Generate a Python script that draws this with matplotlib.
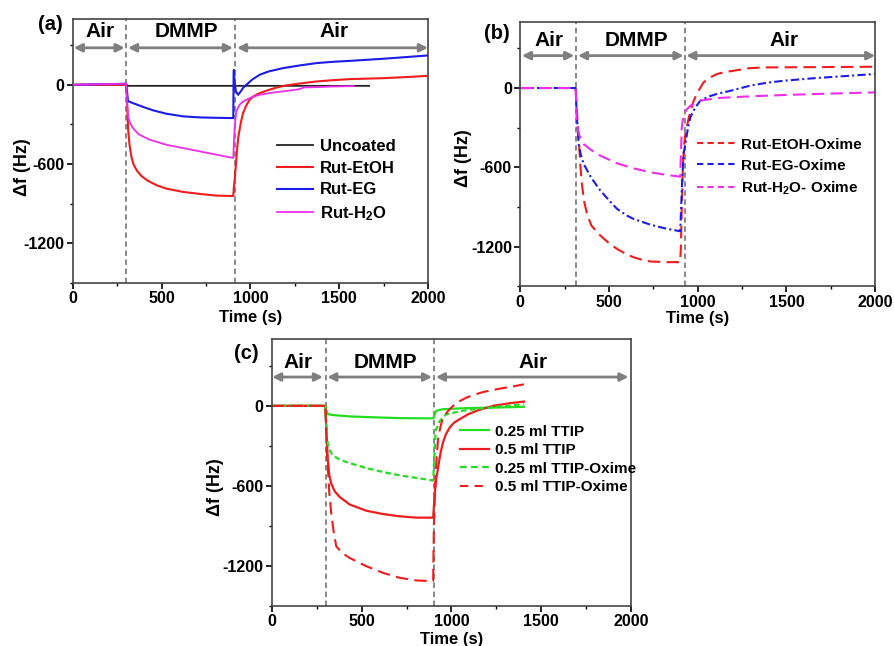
import matplotlib
matplotlib.use("Agg")
import matplotlib.pyplot as plt
from matplotlib.ticker import MultipleLocator

plt.rcParams['font.family'] = ['Liberation Sans', 'DejaVu Sans']
plt.rcParams['font.weight'] = 'bold'
plt.rcParams['axes.unicode_minus'] = False
plt.rcParams['mathtext.fontset'] = 'custom'
plt.rcParams['mathtext.rm'] = 'Liberation Sans:bold'
plt.rcParams['mathtext.bf'] = 'Liberation Sans:bold'
plt.rcParams['mathtext.default'] = 'bf'

RED = '#ee1c1c'
BLUE = '#1c1ce6'
MAGENTA = '#ee2ee8'
GREEN = '#22dd22'
BLACK = '#222222'
GRAY = '#7f7f7f'

# ---------------- panel (a): as-prepared rutile films ----------------
a_unc_t = [0, 295, 305, 1668]
a_unc_f = [0, 0, -8, -8]

a_etoh_t = [0, 300, 305, 310, 318, 328, 340, 360, 385, 420, 470, 526, 620, 714, 808,
            903, 906, 911, 918, 925, 932, 945, 958, 975, 995, 1020, 1052, 1100, 1150,
            1200, 1280, 1371, 1465, 1559, 1747, 1900, 2000]
a_etoh_f = [0, 0, -150, -330, -450, -540, -600, -650, -690, -725, -760, -786, -811, -826,
            -839, -842, -780, -718, -600, -480, -390, -290, -214, -160, -113, -85, -63,
            -40, -20, -5, 10, 25, 35, 43, 50, 60, 68]

a_eg_t = [0, 200, 300, 305, 310, 318, 330, 360, 400, 450, 526, 620, 714, 808, 903, 905,
          907, 910, 918, 930, 945, 960, 977, 1010, 1052, 1100, 1183, 1280, 1371, 1465,
          1559, 1747, 1900, 2000]
a_eg_f = [0, 5, 8, -60, -126, -128, -135, -150, -170, -193, -219, -239, -247, -250, -252,
          100, 113, 20, -50, -76, -50, -20, 0, 40, 76, 100, 126, 147, 164, 174, 181, 197,
          212, 222]

a_h2o_t = [0, 200, 300, 305, 312, 322, 338, 370, 432, 526, 620, 714, 808, 903, 906, 911,
           920, 939, 960, 977, 1010, 1052, 1120, 1183, 1277, 1300, 1371, 1465, 1581]
a_h2o_f = [0, 5, 8, -150, -250, -290, -328, -375, -416, -454, -479, -504, -529, -554,
           -450, -315, -200, -150, -125, -113, -92, -76, -60, -50, -33, -20, -18, -13, -10]

# ---------------- panel (b): oxime-treated rutile films ----------------
b_etoh_t = [0, 312, 315, 320, 325, 330, 338, 347, 360, 376, 400, 451, 500, 545, 600, 638,
            690, 732, 826, 901, 905, 910, 916, 922, 930, 950, 977, 1000, 1033, 1070, 1108,
            1150, 1202, 1296, 1390, 2000]
b_etoh_f = [0, 0, -80, -200, -300, -400, -580, -726, -860, -953, -1040, -1117, -1175, -1218,
            -1260, -1281, -1302, -1313, -1318, -1318, -1200, -900, -600, -450, -348, -220,
            -96, -30, 43, 80, 106, 120, 131, 151, 156, 161]

b_eg_t = [0, 312, 318, 329, 340, 357, 400, 451, 500, 545, 600, 638, 732, 826, 901, 905,
          912, 920, 930, 945, 958, 985, 1014, 1060, 1108, 1202, 1296, 1390, 1484, 1671,
          1859, 2000]
b_eg_f = [0, 0, -200, -424, -500, -575, -680, -776, -850, -915, -965, -991, -1034, -1066,
          -1084, -950, -700, -500, -424, -300, -222, -150, -96, -65, -45, -15, 18, 40, 55,
          76, 93, 106]

b_h2o_t = [0, 312, 318, 329, 357, 400, 451, 545, 638, 732, 826, 901, 905, 910, 920, 940,
           958, 1014, 1108, 1296, 1484, 1671, 2000]
b_h2o_f = [0, 0, -250, -348, -424, -470, -512, -570, -608, -638, -658, -671, -500, -300,
           -197, -160, -134, -96, -76, -63, -53, -45, -33]

# ---------------- panel (c): TTIP loading ----------------
c_g_t = [0, 298, 303, 312, 340, 433, 526, 619, 712, 805, 898, 903, 910, 916, 953, 1084,
         1270, 1403]
c_g_f = [0, 0, -30, -62, -69, -79, -84, -88, -92, -93, -94, -80, -50, -37, -25, -17, -12,
         -7]

c_r_t = [0, 298, 303, 308, 312, 320, 331, 350, 377, 433, 526, 619, 712, 805, 898, 902, 907,
         915, 926, 938, 953, 970, 991, 1015, 1047, 1090, 1140, 1232, 1325, 1403]
c_r_f = [0, 0, -150, -300, -409, -520, -583, -640, -682, -739, -786, -811, -828, -838, -838,
         -760, -657, -550, -459, -360, -273, -210, -161, -125, -99, -65, -37, 0, 20, 32]

c_go_t = [0, 298, 305, 312, 325, 340, 380, 433, 526, 619, 712, 805, 898, 903, 908, 912,
          935, 972, 1084, 1270, 1403]
c_go_f = [0, 0, -200, -285, -340, -372, -405, -429, -466, -496, -521, -540, -560, -434,
          -300, -186, -112, -62, -32, -5, 12]

c_ro_t = [0, 298, 303, 308, 312, 320, 331, 345, 359, 390, 433, 526, 619, 712, 805, 898, 902,
          909, 916, 926, 940, 953, 980, 1009, 1045, 1084, 1130, 1177, 1270, 1340, 1403]
c_ro_f = [0, 0, -200, -400, -459, -650, -806, -950, -1054, -1100, -1140, -1202, -1252,
          -1289, -1309, -1314, -900, -607, -420, -236, -150, -87, -40, 0, 35, 62, 85, 104,
          129, 145, 161]

# gas-phase segments: (label, start, end, text x)
phases_a = [("Air", 4, 291, 150), ("DMMP", 310, 901, 638), ("Air", 924, 2000, 1470)]
phases_b = [("Air", 9, 304, 163), ("DMMP", 325, 920, 652), ("Air", 935, 2000, 1487)]
phases_c = [("Air", 2, 285, 145), ("DMMP", 309, 892, 632), ("Air", 913, 1985, 1455)]
switch_a = [300, 910]
switch_b = [315, 930]
switch_c = [300, 900]

fig = plt.figure(figsize=(8.94, 6.46), dpi=100)
ax_a = fig.add_axes([0.0817, 0.562, 0.397, 0.409])
ax_b = fig.add_axes([0.582, 0.557, 0.397, 0.409])
ax_c = fig.add_axes([0.304, 0.062, 0.402, 0.413])


def style_axes(ax, arrow_y, text_y, phases, switches, tag, tag_xy, ylab_xy, xpad):
    ax.set_xlim(0, 2000)
    ax.set_ylim(-1500, 500)
    ax.xaxis.set_major_locator(MultipleLocator(500))
    ax.xaxis.set_minor_locator(MultipleLocator(250))
    ax.yaxis.set_minor_locator(MultipleLocator(300))
    ax.set_yticks([-1200, -600, 0])
    ax.tick_params(axis='both', which='major', labelsize=11.5, length=4, width=1.2,
                   direction='out', top=False, right=False, pad=2)
    ax.tick_params(axis='both', which='minor', length=2.5, width=1.0,
                   direction='out', top=False, right=False)
    for lab in ax.get_xticklabels() + ax.get_yticklabels():
        lab.set_fontweight('bold')
    for sp in ax.spines.values():
        sp.set_color('#444444')
        sp.set_linewidth(1.2)
    ax.set_xlabel('Time (s)', fontsize=12, fontweight='bold', labelpad=xpad)
    ax.set_ylabel('\u0394f (Hz)', fontsize=13, fontweight='bold')
    ax.yaxis.set_label_coords(*ylab_xy)
    for xs in switches:
        ax.axvline(xs, color=GRAY, ls=(0, (3, 2)), lw=1.3, zorder=1)
    for name, x0, x1, xt in phases:
        ax.annotate('', xy=(x0, arrow_y), xytext=(x1, arrow_y),
                    arrowprops=dict(arrowstyle='<|-|>', color=GRAY, lw=2.0,
                                    mutation_scale=12, shrinkA=0, shrinkB=0))
        ax.text(xt, text_y, name, ha='center', va='center', fontsize=15,
                fontweight='bold')
    ax.text(tag_xy[0], tag_xy[1], tag, transform=ax.transAxes, ha='center',
            va='center', fontsize=14.5, fontweight='bold')


# panel (a)
style_axes(ax_a, 280, 400, phases_a, switch_a, '(a)', (-0.065, 0.977),
           (-0.118, 0.44), 3)
ax_a.plot(a_unc_t, a_unc_f, color=BLACK, lw=1.3, label='Uncoated', zorder=3)
ax_a.plot(a_etoh_t, a_etoh_f, color=RED, lw=1.5, label='Rut-EtOH', zorder=4)
ax_a.plot(a_eg_t, a_eg_f, color=BLUE, lw=1.5, label='Rut-EG', zorder=4)
ax_a.plot(a_h2o_t, a_h2o_f, color=MAGENTA, lw=1.3, label='Rut-H$_2$O', zorder=4)
ax_a.legend(loc='upper left', bbox_to_anchor=(0.555, 0.57), frameon=False,
            handlelength=2.2, handletextpad=0.4, labelspacing=0.4,
            borderaxespad=0, prop={'weight': 'bold', 'size': 12})

# panel (b)
style_axes(ax_b, 245, 358, phases_b, switch_b, '(b)', (-0.065, 0.958),
           (-0.135, 0.485), 1)
ax_b.plot(b_etoh_t, b_etoh_f, color=RED, lw=1.5, ls=(0, (6, 3)), label='Rut-EtOH-Oxime')
ax_b.plot(b_eg_t, b_eg_f, color=BLUE, lw=1.5, ls=(0, (4, 1.5, 1, 1.5)), label='Rut-EG-Oxime')
ax_b.plot(b_h2o_t, b_h2o_f, color=MAGENTA, lw=1.5, ls=(0, (6, 3)), label='Rut-H$_2$O- Oxime')
leg_b = ax_b.legend(loc='upper left', bbox_to_anchor=(0.48, 0.585), frameon=False,
                    handlelength=2.6, handletextpad=0.3, labelspacing=0.45,
                    borderaxespad=0, prop={'weight': 'bold', 'size': 11})
for h in leg_b.get_lines():
    h.set_linestyle((0, (3, 2)))

# panel (c)
style_axes(ax_c, 216, 322, phases_c, switch_c, '(c)', (-0.07, 0.948),
           (-0.133, 0.446), 2)
ax_c.plot(c_g_t, c_g_f, color=GREEN, lw=1.6, label='0.25 ml TTIP')
ax_c.plot(c_r_t, c_r_f, color=RED, lw=1.6, label='0.5 ml TTIP')
ax_c.plot(c_go_t, c_go_f, color=GREEN, lw=1.6, ls=(0, (2.5, 1.5)), label='0.25 ml TTIP-Oxime')
ax_c.plot(c_ro_t, c_ro_f, color=RED, lw=1.5, ls=(0, (6, 3)), label='0.5 ml TTIP-Oxime')
leg_c = ax_c.legend(loc='upper left', bbox_to_anchor=(0.506, 0.703), frameon=False,
                    handlelength=1.9, handletextpad=0.4, labelspacing=0.3,
                    borderaxespad=0, prop={'weight': 'bold', 'size': 11})
leg_c.get_lines()[2].set_linestyle((0, (3, 2)))
leg_c.get_lines()[3].set_linestyle((0, (4, 3)))

fig.savefig('out.png', dpi=100)
